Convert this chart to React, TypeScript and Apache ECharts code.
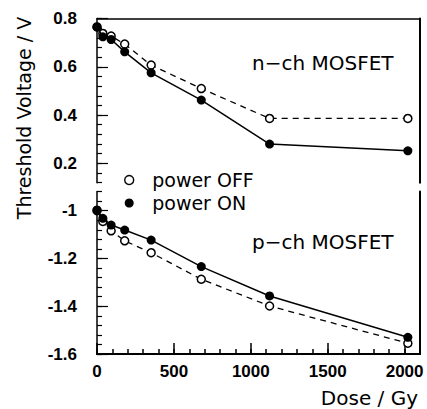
import React, { useEffect, useRef } from "react";
import * as echarts from "echarts";

// Dose values (Gy)
const doses = [0, 38, 92, 180, 352, 678, 1122, 2021];
// n-channel MOSFET threshold voltage (V)
const nchPowerOn = [0.765, 0.724, 0.713, 0.662, 0.575, 0.462, 0.28, 0.252];
const nchPowerOff = [0.765, 0.738, 0.727, 0.694, 0.607, 0.51, 0.386, 0.386];
// p-channel MOSFET threshold voltage (V)
const pchPowerOn = [-0.997, -1.032, -1.06, -1.081, -1.123, -1.234, -1.357, -1.53];
const pchPowerOff = [-1.0, -1.045, -1.084, -1.126, -1.176, -1.287, -1.399, -1.555];

// tick labels
const nchTicks = [0.2, 0.4, 0.6, 0.8];
const pchTicks = [-1.6, -1.4, -1.2, -1.0];
const doseTicks = [0, 500, 1000, 1500, 2000];
const DOSE_MAX = 2100;

const seriesNames = { off: "power OFF", on: "power ON" };

const pairs = (xs: number[], ys: number[]) => xs.map((x, i) => [x, ys[i]]);

const BLACK = "#000";
const labelFont = {
  fontSize: 17,
  fontWeight: "bold" as const,
  fontFamily: "Liberation Sans",
  color: BLACK,
};
const fmtV = (v: number) => String(Math.round(v * 10) / 10);
const fmtD = (v: number) => String(Math.round(v));

const PLOT_W = 323;
const TOP_H = 164.2;
const BOT_H = 162.4;

export default function App() {
  const ref = useRef<HTMLDivElement>(null);
  useEffect(() => {
    document.body.style.margin = "0";
    if (!ref.current) return;
    const chart = echarts.init(ref.current, undefined, { renderer: "svg" });

    const line = (width = 1.5) => ({ show: true, onZero: false, lineStyle: { color: BLACK, width } });
    const noLine = () => ({ show: false, onZero: false });
    const tick = (length: number, customValues?: number[], width = 1.2) => {
      const t: any = { show: true, length, lineStyle: { color: BLACK, width } };
      if (customValues) t.customValues = customValues;
      return t;
    };
    const off = { show: false };

    // y-axis helpers: ticks drawn by a right-side axis shifted onto the left edge,
    // so that they point into the plot
    const yMinor = (gridIndex: number, min: number, max: number) => ({
      gridIndex, type: "value", min, max, interval: 0.04,
      position: "right", offset: -PLOT_W,
      axisLine: line(), axisTick: tick(5), axisLabel: off, splitLine: off,
    });
    const yMajor = (gridIndex: number, min: number, max: number, ticks: number[]) => ({
      gridIndex, type: "value", min, max,
      position: "right", offset: -PLOT_W,
      axisLine: noLine(), axisTick: tick(11, ticks), axisLabel: off, splitLine: off,
    });
    const yLabels = (gridIndex: number, min: number, max: number, ticks: number[], pad: number) => ({
      gridIndex, type: "value", min, max,
      position: "left",
      axisLine: noLine(), axisTick: off,
      axisLabel: { ...labelFont, customValues: ticks, formatter: fmtV, margin: 20, padding: [pad, 0, 0, 0] },
      splitLine: off,
    });
    const yFrame = (gridIndex: number, min: number, max: number) => ({
      gridIndex, type: "value", min, max,
      position: "right",
      axisLine: line(2), axisTick: off, axisLabel: off, splitLine: off,
    });

    const frameMarkLine = (data: any[]) => ({
      silent: true,
      symbol: ["none", "none"],
      label: { show: false },
      lineStyle: { color: BLACK, width: 2, type: "solid" },
      emphasis: { disabled: true },
      animation: false,
      data,
    });

    const option: any = {
      animation: false,
      backgroundColor: "#fff",
      grid: [
        { left: 97, right: 7, top: 18.5, height: TOP_H }, // n-ch
        { left: 97, right: 7, top: 191.6, height: BOT_H }, // p-ch
      ],
      xAxis: [
        {
          gridIndex: 0, type: "value", min: 0, max: DOSE_MAX, position: "top",
          axisLine: line(), axisTick: off, axisLabel: off, splitLine: off,
        },
        {
          gridIndex: 1, type: "value", min: 0, max: DOSE_MAX, interval: 100,
          position: "top", offset: -BOT_H,
          axisLine: line(2), axisTick: tick(5, undefined, 1.5), axisLabel: off, splitLine: off,
        },
        {
          gridIndex: 1, type: "value", min: 0, max: DOSE_MAX, interval: 500,
          position: "top", offset: -BOT_H,
          axisLine: noLine(), axisTick: tick(11, undefined, 1.5), axisLabel: off, splitLine: off,
        },
        {
          gridIndex: 1, type: "value", min: 0, max: DOSE_MAX, position: "bottom",
          axisLine: line(2), axisTick: off,
          axisLabel: { ...labelFont, customValues: doseTicks, formatter: fmtD, margin: 9 },
          splitLine: off,
        },
      ],
      yAxis: [
        yMinor(0, 0.12, 0.8),
        yMajor(0, 0.12, 0.8, nchTicks),
        yLabels(0, 0.12, 0.8, nchTicks, 6),
        yMinor(1, -1.6, -0.92),
        yMajor(1, -1.6, -0.92, pchTicks),
        yLabels(1, -1.6, -0.92, pchTicks, 2),
        yFrame(0, 0.12, 0.8),
        yFrame(1, -1.6, -0.92),
      ],
      legend: {
        orient: "vertical",
        left: 124,
        top: 170.5,
        padding: 0,
        itemWidth: 36,
        itemHeight: 9,
        itemGap: 4,
        selectedMode: false,
        textStyle: { fontSize: 19, fontFamily: "DejaVu Sans", color: BLACK, lineHeight: 19 },
        data: [
          {
            name: seriesNames.off,
            icon: "circle",
            itemStyle: { color: "#fff", borderColor: BLACK, borderWidth: 1.4 },
          },
          {
            name: seriesNames.on,
            icon: "circle",
            itemStyle: { color: BLACK, borderWidth: 0 },
          },
        ],
      },
      series: [
        {
          name: seriesNames.off, type: "line", xAxisIndex: 0, yAxisIndex: 0,
          data: pairs(doses, nchPowerOff),
          symbol: "circle", symbolSize: 8,
          itemStyle: { color: "#fff", borderColor: BLACK, borderWidth: 1.5 },
          lineStyle: { color: BLACK, width: 1.3, type: [6, 5] },
          clip: false,
          z: 2,
        },
        {
          name: seriesNames.on, type: "line", xAxisIndex: 0, yAxisIndex: 0,
          data: pairs(doses, nchPowerOn),
          symbol: "circle", symbolSize: 9,
          itemStyle: { color: BLACK, borderWidth: 0 },
          lineStyle: { color: BLACK, width: 1.5 },
          clip: false,
          markLine: frameMarkLine([{ xAxis: DOSE_MAX }]),
          z: 3,
        },
        {
          name: seriesNames.off, type: "line", xAxisIndex: 3, yAxisIndex: 3,
          data: pairs(doses, pchPowerOff),
          symbol: "circle", symbolSize: 8,
          itemStyle: { color: "#fff", borderColor: BLACK, borderWidth: 1.5 },
          lineStyle: { color: BLACK, width: 1.3, type: [6, 5] },
          clip: false,
          z: 2,
        },
        {
          name: seriesNames.on, type: "line", xAxisIndex: 3, yAxisIndex: 3,
          data: pairs(doses, pchPowerOn),
          symbol: "circle", symbolSize: 9,
          itemStyle: { color: BLACK, borderWidth: 0 },
          lineStyle: { color: BLACK, width: 1.5 },
          clip: false,
          markLine: frameMarkLine([{ xAxis: DOSE_MAX }, { yAxis: -1.6 }]),
          z: 3,
        },
      ],
      graphic: [
        {
          type: "text", x: 24, y: 118, rotation: Math.PI / 2,
          style: {
            text: "Threshold Voltage / V", fontSize: 19, fontFamily: "DejaVu Sans",
            fill: BLACK, textAlign: "center", textVerticalAlign: "middle",
          },
        },
        {
          type: "text", x: 418, y: 398,
          style: {
            text: "Dose / Gy", fontSize: 20, fontFamily: "DejaVu Sans",
            fill: BLACK, textAlign: "right", textVerticalAlign: "middle",
          },
        },
        {
          type: "text", x: 252, y: 63,
          style: {
            text: "n\u2212ch MOSFET", fontSize: 20, fontFamily: "DejaVu Sans",
            fill: BLACK, textAlign: "left", textVerticalAlign: "middle",
          },
        },
        {
          type: "text", x: 252, y: 242,
          style: {
            text: "p\u2212ch MOSFET", fontSize: 20, fontFamily: "DejaVu Sans",
            fill: BLACK, textAlign: "left", textVerticalAlign: "middle",
          },
        },
      ],
    };
    chart.setOption(option);
    return () => chart.dispose();
  }, []);
  return <div ref={ref} style={{ width: 427, height: 409 }} />;
}
